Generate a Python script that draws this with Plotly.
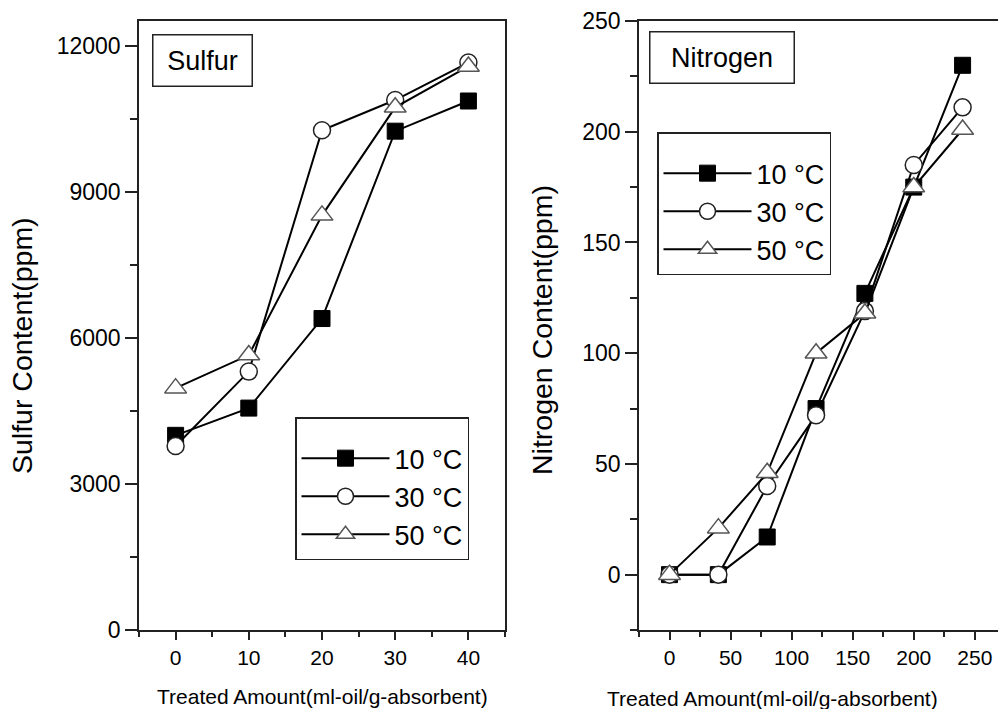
import plotly.graph_objects as go

W, H = 998, 709

# ---- data ----
sulfur_x = [0, 10, 20, 30, 40]
sulfur_10 = [4000, 4560, 6400, 10250, 10870]
sulfur_30 = [3780, 5310, 10270, 10890, 11660]
sulfur_50 = [4970, 5650, 8520, 10740, 11580]

nitro_x = [0, 40, 80, 120, 160, 200, 240]
nitro_10 = [0, 0, 17, 75, 127, 175, 230]
nitro_30 = [0, 0, 40, 72, 119, 185, 211]
nitro_50 = [0, 21, 46, 100, 118, 175, 201]

series_names = ["10 °C", "30 °C", "50 °C"]
sulfur_ticks = [0, 3000, 6000, 9000, 12000]
nitro_ticks = [0, 50, 100, 150, 200, 250]

FONT = "Liberation Sans, Arial, sans-serif"

def px_x(p):
    return p / W

def px_y(p):
    return (H - p) / H

styles = [
    dict(symbol="square", color="black", line=dict(color="black", width=1), size=16),
    dict(symbol="circle", color="white", line=dict(color="#222", width=1.5), size=17),
    dict(symbol="triangle-up", color="white", line=dict(color="#555", width=1.5), size=19),
]

fig = go.Figure()

for i, (ys, name, st) in enumerate(zip([sulfur_10, sulfur_30, sulfur_50], series_names, styles)):
    fig.add_trace(go.Scatter(x=sulfur_x, y=ys, name=name, mode="lines+markers",
                             line=dict(color="black", width=2), marker=st,
                             legendgroup=f"s{i}",
                             xaxis="x", yaxis="y", legend="legend"))
for i, (ys, name, st) in enumerate(zip([nitro_10, nitro_30, nitro_50], series_names, styles)):
    fig.add_trace(go.Scatter(x=nitro_x, y=ys, name=name, mode="lines+markers",
                             line=dict(color="black", width=2), marker=st,
                             legendgroup=f"n{i}",
                             xaxis="x2", yaxis="y2", legend="legend2"))

axis_common = dict(showline=True, linecolor="#222", linewidth=1.5, ticks="outside",
                   tickcolor="#222", tickwidth=1.5, showgrid=False, zeroline=False,
                   automargin=False, tickformat="d",
                   tickfont=dict(family=FONT, size=21, color="black"))
ytickfont = dict(family=FONT, size=23, color="black")

legend_common = dict(xanchor="left", yanchor="top",
                     bordercolor="#222", borderwidth=1.5, bgcolor="white", tracegroupgap=0,
                     title=dict(text=" ", font=dict(size=12)),
                     font=dict(family=FONT, size=27, color="black"), itemwidth=88)

fig.update_layout(
    width=W, height=H,
    margin=dict(l=0, r=0, t=0, b=0, autoexpand=False),
    paper_bgcolor="white", plot_bgcolor="white",
    font=dict(family=FONT, color="black"),
    xaxis=dict(domain=[px_x(139), px_x(505)], range=[-5, 45], tickvals=[0, 10, 20, 30, 40],
               ticklen=8, mirror=True, anchor="y",
               minor=dict(dtick=5, tick0=5, ticklen=5, tickwidth=1.5, tickcolor="#222", ticks="outside"),
               **axis_common),
    yaxis=dict(domain=[px_y(630), px_y(21)], range=[0, 12514], tickvals=sulfur_ticks,
               ticklen=12, mirror=True, anchor="x",
               minor=dict(dtick=1500, tick0=1500, ticklen=7, tickwidth=1.5, tickcolor="#222", ticks="outside"),
               **{**axis_common, "tickfont": ytickfont}),
    xaxis2=dict(domain=[px_x(639), 1.0], range=[-25, 269], tickvals=[0, 50, 100, 150, 200, 250],
                ticklen=8, mirror=True, anchor="y2",
                minor=dict(dtick=25, tick0=25, ticklen=5, tickwidth=1.5, tickcolor="#222", ticks="outside"),
                **axis_common),
    yaxis2=dict(domain=[px_y(630), px_y(21)], range=[-25, 250], tickvals=nitro_ticks,
                ticklen=12, mirror=False, anchor="x2",
                minor=dict(dtick=25, tick0=25, ticklen=7, tickwidth=1.5, tickcolor="#222", ticks="outside"),
                **{**axis_common, "tickfont": ytickfont}),
    legend=dict(x=px_x(295), y=px_y(417), **legend_common),
    legend2=dict(x=px_x(657), y=px_y(132), **legend_common),
)

annotations = [
    dict(text="Sulfur", x=px_x(202), y=px_y(61), xref="paper", yref="paper", showarrow=False,
         xanchor="center", yanchor="middle",
         font=dict(family=FONT, size=27, color="black"), bordercolor="#222", borderwidth=1.5,
         borderpad=0, width=98, height=50, bgcolor="white"),
    dict(text="Nitrogen", x=px_x(722), y=px_y(58), xref="paper", yref="paper", showarrow=False,
         xanchor="center", yanchor="middle",
         font=dict(family=FONT, size=27, color="black"), bordercolor="#222", borderwidth=1.5,
         borderpad=0, width=143, height=50, bgcolor="white"),
    dict(text="Sulfur Content(ppm)", x=px_x(22), y=px_y(346), xref="paper", yref="paper",
         xanchor="center", yanchor="middle",
         showarrow=False, textangle=-90, font=dict(family=FONT, size=28.5, color="black")),
    dict(text="Nitrogen Content(ppm)", x=px_x(542), y=px_y(330), xref="paper", yref="paper",
         xanchor="center", yanchor="middle",
         showarrow=False, textangle=-90, font=dict(family=FONT, size=28.5, color="black")),
    dict(text="Treated Amount(ml-oil/g-absorbent)", x=px_x(322), y=px_y(696), xref="paper", yref="paper",
         xanchor="center", yanchor="middle",
         showarrow=False, font=dict(family=FONT, size=21, color="black")),
    dict(text="Treated Amount(ml-oil/g-absorbent)", x=px_x(772), y=px_y(698), xref="paper", yref="paper",
         xanchor="center", yanchor="middle",
         showarrow=False, font=dict(family=FONT, size=21, color="black")),
]
fig.update_layout(annotations=annotations)

fig.write_html("out.html")
